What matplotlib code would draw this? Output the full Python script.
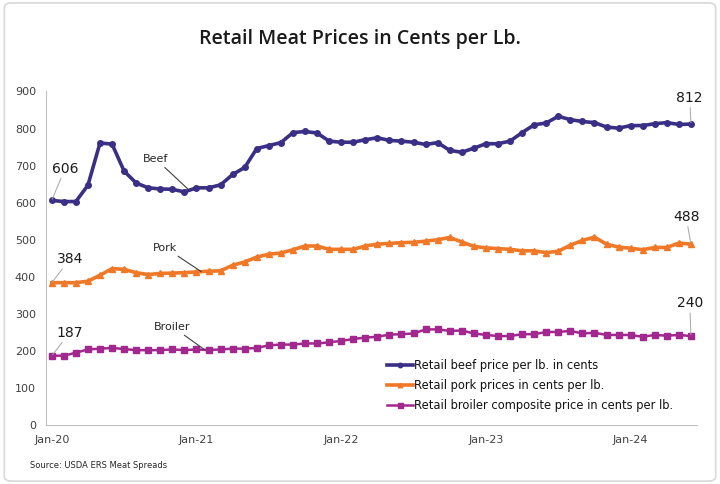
import matplotlib
matplotlib.use('Agg')
import matplotlib.pyplot as plt
from matplotlib.patches import FancyBboxPatch

months = ['Jan-20', 'Jan-21', 'Jan-22', 'Jan-23', 'Jan-24']

beef = [606, 603, 603, 647, 761, 758, 685, 653, 640, 637,
        636, 629, 640, 640, 648, 676, 695, 746, 754, 762,
        789, 792, 788, 766, 763, 763, 770, 775, 768, 766,
        763, 757, 762, 741, 736, 747, 759, 759, 766, 789,
        810, 815, 833, 824, 819, 816, 804, 801, 808, 808,
        813, 816, 811, 812]
pork = [384, 384, 384, 388, 404, 422, 420, 411, 406, 409,
        410, 411, 413, 415, 416, 431, 440, 453, 461, 464,
        473, 483, 483, 474, 474, 474, 483, 488, 490, 492,
        493, 496, 500, 506, 494, 482, 478, 476, 474, 470,
        470, 465, 469, 485, 498, 507, 488, 480, 477, 473,
        479, 479, 491, 488]
broiler = [187, 187, 195, 204, 206, 208, 205, 202, 202, 202,
           204, 202, 204, 202, 204, 206, 206, 208, 215, 217,
           217, 220, 220, 223, 227, 232, 236, 238, 244, 245,
           247, 258, 258, 254, 255, 247, 243, 240, 240, 245,
           245, 251, 251, 254, 247, 249, 243, 243, 243, 238,
           243, 241, 243, 240]

x = list(range(len(beef)))

c_beef = '#3a2f86'
c_pork = '#f07826'
c_broil = '#a2278e'

fig = plt.figure(figsize=(7.2, 4.84), dpi=100)
ax = fig.add_axes([0.0635, 0.1219, 0.9045, 0.6891])

# outer frame
frame = FancyBboxPatch((0.006, 0.006), 0.988, 0.988, boxstyle='round,pad=0,rounding_size=0.01',
                       transform=fig.transFigure, fc='white', ec='#d9d9d9', lw=1.2, zorder=-10)
fig.patches.append(frame)

ax.plot(x, beef, color=c_beef, lw=2.6, marker='o', ms=4,
        label='Retail beef price per lb. in cents')
ax.plot(x, pork, color=c_pork, lw=2.6, marker='^', ms=4,
        label='Retail pork prices in cents per lb.')
ax.plot(x, broiler, color=c_broil, lw=1.8, marker='s', ms=4.5,
        label='Retail broiler composite price in cents per lb.')

ax.set_xlim(-0.5, 53.5)
ax.set_ylim(0, 900)
ax.set_yticks(range(0, 901, 100))
ax.set_xticks([0, 12, 24, 36, 48])
ax.set_xticklabels(months)
ax.tick_params(length=0, labelsize=8, colors='#404040', pad=7)
for s in ['top', 'right']:
    ax.spines[s].set_visible(False)
for s in ['left', 'bottom']:
    ax.spines[s].set_color('#bfbfbf')

# value labels at both ends
def endlabel(i, series, dx, dy):
    ax.annotate(str(series[i]), xy=(i, series[i]), xytext=(i + dx, series[i] + dy),
                ha='center', va='bottom', fontsize=10, color='#1a1a1a',
                arrowprops=dict(arrowstyle='-', color='#a6a6a6', lw=0.7, shrinkA=0, shrinkB=1))

endlabel(0, beef, 1.1, 67)
endlabel(0, pork, 1.5, 45)
endlabel(0, broiler, 1.5, 43)
endlabel(53, beef, -0.1, 52)
endlabel(53, pork, -0.4, 55)
endlabel(53, broiler, -0.1, 70)

# series names with leader lines to the curve
def namelabel(txt, xt, yt, i, frac, series):
    yv = series[i] + frac * (series[i + 1] - series[i])
    ax.annotate(txt, xy=(i + frac, yv), xytext=(xt, yt), ha='center', va='bottom',
                fontsize=8, color='#262626',
                arrowprops=dict(arrowstyle='-', color='#404040', lw=0.8, shrinkA=1, shrinkB=0))

namelabel('Beef', 8.6, 705, 11, 0.4, beef)
namelabel('Pork', 9.4, 465, 12, 0.4, pork)
namelabel('Broiler', 10.0, 252, 12, 0.7, broiler)

leg = ax.legend(loc='lower right', bbox_to_anchor=(0.979, 0.007), frameon=False,
                fontsize=8.3, handlelength=2.2, handletextpad=0.1, labelspacing=0.6,
                markerscale=0.8)
for t in leg.get_texts():
    t.set_color('#111111')

fig.text(0.5, 0.92, 'Retail Meat Prices in Cents per Lb.', ha='center', va='center',
         fontsize=14, fontweight='semibold', family='Open Sans', color='#1a1a1a')
fig.text(0.042, 0.034, 'Source: USDA ERS Meat Spreads', fontsize=6.0, color='#262626')

fig.savefig('out.png', dpi=100)
